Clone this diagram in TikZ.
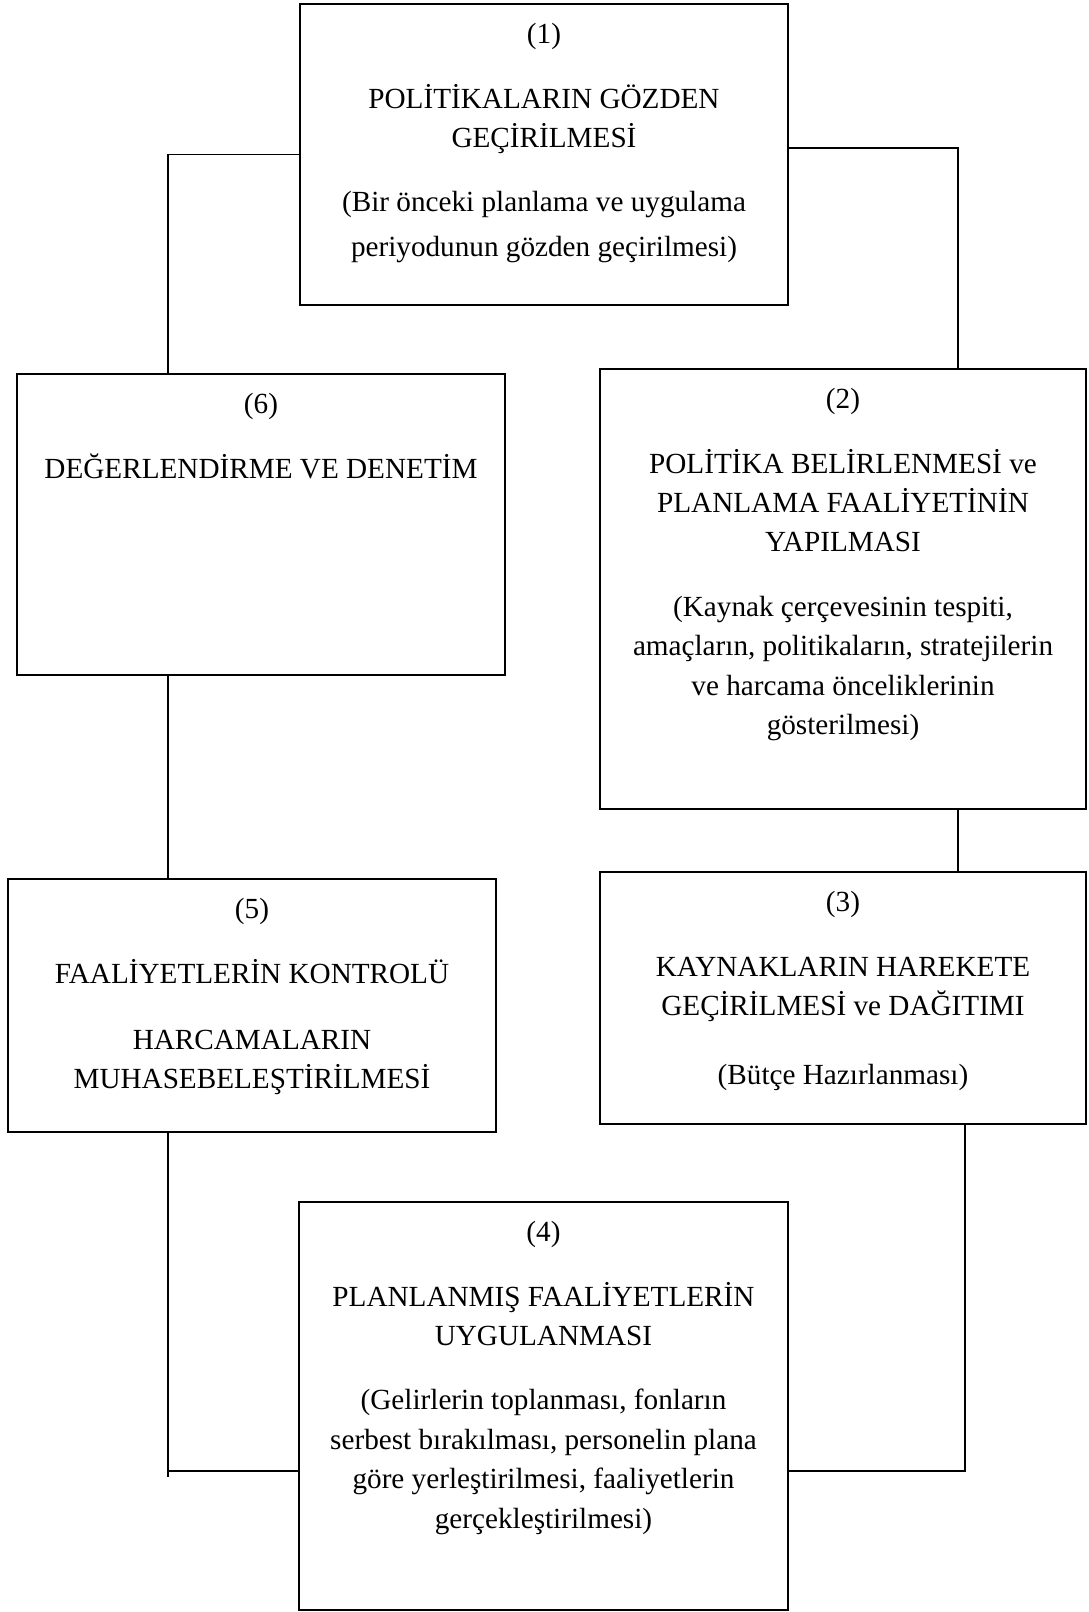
\documentclass[tikz,border=0pt]{standalone}
\usepackage{fontspec}
\setmainfont{Liberation Serif}
\usetikzlibrary{positioning}
\tikzset{
  stage/.style={draw, line width=1pt, inner sep=0pt},
  stagetext/.style={align=center, inner sep=0pt, font=\fontsize{14.6}{19.7}\selectfont},
  link/.style={line width=0.7pt}
}
\newcommand\stagegap{12.5pt}

\begin{document}
\begin{tikzpicture}[x=0.5pt,y=-0.5pt]
    \useasboundingbox (0,0) rectangle (1088,1612);

    % boxes
    \node[stage, minimum width=244pt, minimum height=150.5pt] at (544,154.5)  (b1) {};
    \node[stage, minimum width=243pt, minimum height=220pt]   at (843,589)    (b2) {};
    \node[stage, minimum width=243pt, minimum height=126pt]   at (843,998)    (b3) {};
    \node[stage, minimum width=244.5pt, minimum height=204pt] at (543.5,1406) (b4) {};
    \node[stage, minimum width=244pt, minimum height=126.5pt] at (252,1005.5) (b5) {};
    \node[stage, minimum width=244pt, minimum height=150.5pt] at (261,524.5)  (b6) {};

    % texts
    \node[stagetext, below=10pt of b1.north] (t1) {(1)\\[\stagegap]
        POLİTİKALARIN GÖZDEN\\ GEÇİRİLMESİ\\[\stagegap]
        (Bir önceki planlama ve uygulama\\[2.5pt] periyodunun gözden geçirilmesi)};
    \node[stagetext, below=10pt of b2.north] (t2) {(2)\\[\stagegap]
        POLİTİKA BELİRLENMESİ ve\\ PLANLAMA FAALİYETİNİN\\ YAPILMASI\\[\stagegap]
        (Kaynak çerçevesinin tespiti,\\ amaçların, politikaların, stratejilerin\\
        ve harcama önceliklerinin\\ gösterilmesi)};
    \node[stagetext, below=10pt of b3.north] (t3) {(3)\\[\stagegap]
        KAYNAKLARIN HAREKETE\\ GEÇİRİLMESİ ve DAĞITIMI\\[15pt]
        (Bütçe Hazırlanması)};
    \node[stagetext, below=10pt of b4.north] (t4) {(4)\\[\stagegap]
        PLANLANMIŞ FAALİYETLERİN\\ UYGULANMASI\\[\stagegap]
        (Gelirlerin toplanması, fonların\\ serbest bırakılması, personelin plana\\
        göre yerleştirilmesi, faaliyetlerin\\ gerçekleştirilmesi)};
    \node[stagetext, below=10pt of b5.north] (t5) {(5)\\[\stagegap]
        FAALİYETLERİN KONTROLÜ\\[13.5pt]
        HARCAMALARIN\\ MUHASEBELEŞTİRİLMESİ};
    \node[stagetext, below=10pt of b6.north] (t6) {(6)\\[\stagegap]
        DEĞERLENDİRME VE DENETİM};

    % junctions
    \coordinate (j1) at (168,374);
    \coordinate (j2) at (958,369);
    \coordinate (j4l) at (168,1471);
    \coordinate (j4r) at (965,1471);

    \draw[link] (b1.west) -| (j1);
    \draw[link] ([yshift=3.25pt]b1.east) -| (j2);
    \draw[link] (b2.south -| j2) -- (b3.north -| j2);
    \draw[link] (b3.south -| j4r) -- (j4r) -- (j4r -| b4.east);
    \draw[link] (b5.south -| j4l) -- ([yshift=-3pt]j4l);
    \draw[link] (j4l) -- (j4l -| b4.west);
    \draw[link] (b6.south -| j1) -- (b5.north -| j1);
\end{tikzpicture}
\end{document}
